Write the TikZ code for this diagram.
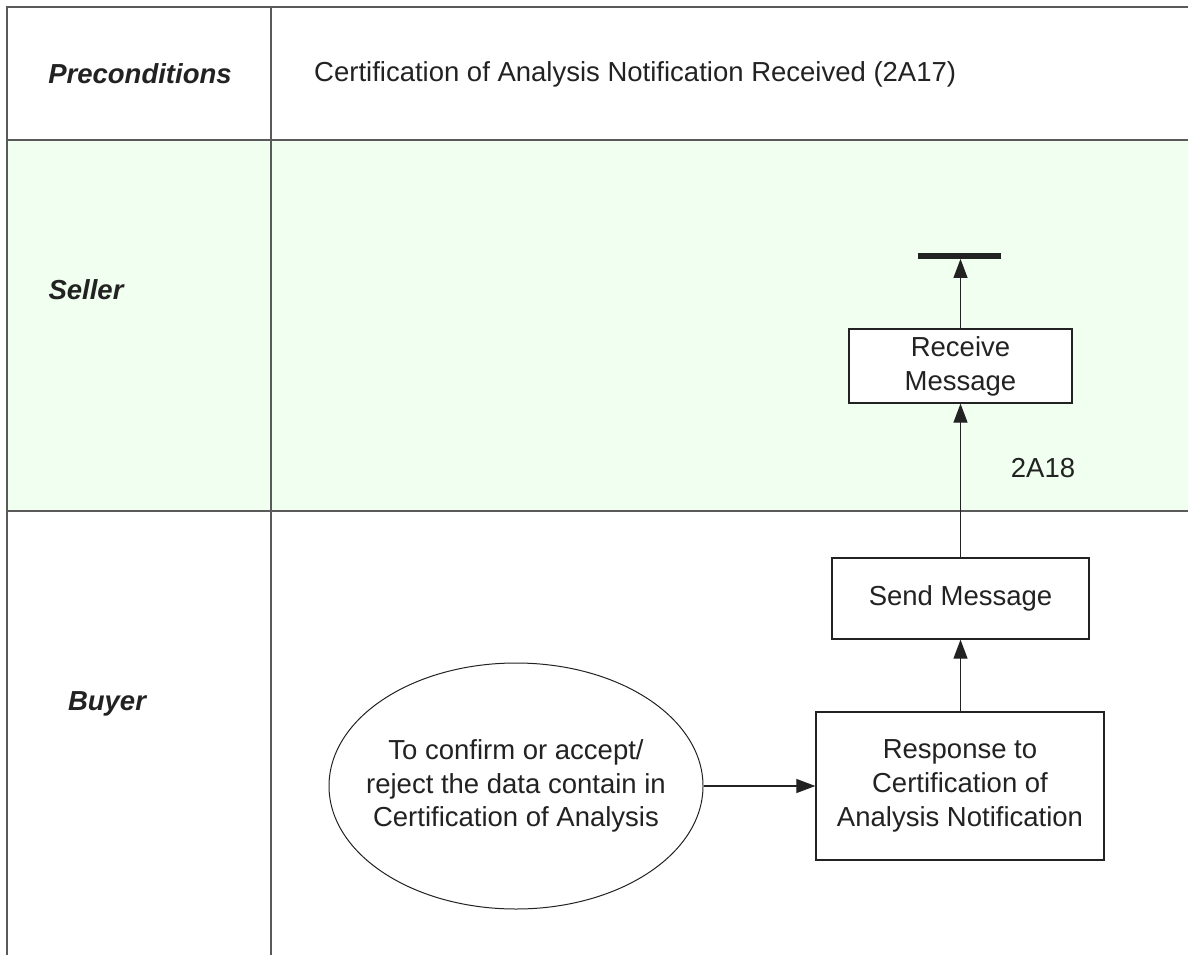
\documentclass[tikz,border=0pt]{standalone}
\usepackage{fontspec}
\setmainfont{Liberation Sans}
\usetikzlibrary{arrows.meta,shapes.geometric}
\definecolor{lanefill}{HTML}{F0FFF0}
\definecolor{laneline}{HTML}{5A5A5A}
\definecolor{ink}{HTML}{222222}
\begin{document}
\begin{tikzpicture}[x=1pt,y=-1pt,
  txt/.style={font=\fontsize{27.5}{33.8}\selectfont, text=ink, inner sep=0pt},
  lanelabel/.style={txt, font=\fontsize{27.5}{33.8}\selectfont\bfseries\itshape},
  box/.style={txt, draw=ink, line width=1.3pt, fill=white, align=center},
  flow/.style={draw=ink, line width=1.2pt, -{Triangle[length=19pt,width=14pt]}}
]
\useasboundingbox (0,0) rectangle (1188,955);
% lanes
\fill[lanefill] (7,140) rectangle (1188,511);
\draw[laneline, line width=1.5pt] (1188,7) -- (7,7) -- (7,955);
\draw[laneline, line width=1.5pt] (271,7) -- (271,955);
\draw[laneline, line width=1.5pt] (7,140) -- (1188,140);
\draw[laneline, line width=1.5pt] (7,511) -- (1188,511);
% lane labels
\node[lanelabel] (pre) at (140,74) {Preconditions};
\node[lanelabel] (seller) at (86,290) {Seller};
\node[lanelabel] (buyer) at (107,704) {Buyer};
\node[txt, anchor=west] (cond) at (314,74) {Certification of Analysis Notification Received (2A17)};
% flow nodes
\node[fill=ink, minimum width=83pt, minimum height=5.5pt, inner sep=0pt] (bar) at (959,256) {};
\node[box, minimum width=223pt, minimum height=74pt] (recv) at (960.5,366) {Receive\\Message};
\node[box, minimum width=257pt, minimum height=81pt] (send) at (960.5,598.5) {Send Message};
\node[box, minimum width=288pt, minimum height=148pt] (resp) at (960,786) {Response to\\Certification of\\Analysis Notification};
\node[draw=ink, line width=1pt, ellipse, fill=white, inner sep=0pt, minimum width=374pt, minimum height=246pt] (goal) at (516,786) {};
\node[txt, align=center] (goaltxt) at (goal.center) {To confirm or accept/\\reject the data contain in\\Certification of Analysis};
\node[txt] (lbl) at (1043,468) {2A18};
% connectors
\draw[flow] (goal.east) -- (resp.west);
\draw[flow] (resp.north -| send.south) -- (send.south);
\draw[flow] (send.north) -- (recv.south);
\draw[flow] (recv.north) -- (recv.north |- bar.south);
\end{tikzpicture}
\end{document}
